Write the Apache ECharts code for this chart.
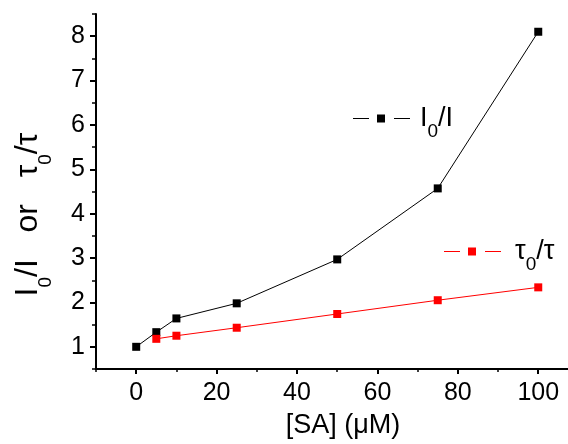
<!DOCTYPE html>
<html>
<head>
<meta charset="utf-8">
<script src="https://cdn.jsdelivr.net/npm/echarts@6/dist/echarts.min.js"></script>
<style>
  html, body { margin: 0; padding: 0; background: #fff; }
  #chart { width: 568px; height: 444px; }
</style>
</head>
<body>
<div id="chart"></div>
<script>
// concentration of SA (uM)
var concBlack = [0, 5, 10, 25, 50, 75, 100];
var ratioI = [1.0, 1.33, 1.64, 1.98, 2.97, 4.57, 8.1];
var concRed = [5, 10, 25, 50, 75, 100];
var ratioTau = [1.18, 1.25, 1.43, 1.74, 2.05, 2.34];

var xMajor = [0, 20, 40, 60, 80, 100];
var xMinor = [-10, 10, 30, 50, 70, 90];
var yMajor = [1, 2, 3, 4, 5, 6, 7, 8];
var yMinor = [0.5, 1.5, 2.5, 3.5, 4.5, 5.5, 6.5, 7.5, 8.5];

function pairs(xs, ys) {
  return xs.map(function (x, i) { return [x, ys[i]]; });
}

var font = '"Liberation Sans", Arial, sans-serif';
var legendIcon = 'path://M0,3.5h16v1h-16z M24,0h8v8h-8z M41,3.5h16v1h-16z';

var legendRich = {
  a: { fontSize: 27, fontFamily: font, color: '#000', lineHeight: 30 },
  s: { fontSize: 19, fontFamily: font, color: '#000', padding: [27, 0, 0, 0] }
};

var chart = echarts.init(document.getElementById('chart'));
chart.setOption({
  animation: false,
  backgroundColor: '#fff',
  grid: { left: 96, right: 0, top: 14, bottom: 75, containLabel: false },
  legend: [
    {
      data: [{ name: 'I0/I', icon: legendIcon }],
      left: 353, top: 105, padding: 0,
      itemWidth: 57, itemHeight: 8,
      itemStyle: { borderWidth: 0 },
      formatter: function () { return '{a|I}{s|0}{a|/I}'; },
      textStyle: { padding: [0, 0, 0, 5], rich: legendRich }
    },
    {
      data: [{ name: 't0/t', icon: legendIcon }],
      left: 444, top: 238, padding: 0,
      itemWidth: 57, itemHeight: 8,
      itemStyle: { borderWidth: 0 },
      formatter: function () { return '{a|τ}{s|0}{a|/τ}'; },
      textStyle: { padding: [0, 0, 0, 9], rich: legendRich }
    }
  ],
  xAxis: [
    {
      type: 'value', min: -10, max: 107.4,
      name: '[SA] (μM)', nameLocation: 'middle', nameGap: 43,
      nameTextStyle: { fontSize: 27, fontFamily: font, color: '#000', padding: [0, 0, 0, 22] },
      axisLine: { show: true, onZero: false, lineStyle: { color: '#000', width: 2 } },
      axisTick: { show: true, customValues: xMajor, length: 5, lineStyle: { color: '#000', width: 2 } },
      axisLabel: { customValues: xMajor, margin: 12, fontSize: 25, fontFamily: font, color: '#000' },
      splitLine: { show: false }
    },
    {
      type: 'value', min: -10, max: 107.4, position: 'bottom',
      axisLine: { show: false, onZero: false },
      axisTick: { show: true, customValues: xMinor, length: 3, lineStyle: { color: '#000', width: 1.5 } },
      axisLabel: { show: false },
      splitLine: { show: false }
    }
  ],
  yAxis: [
    {
      type: 'value', min: 0.5, max: 8.5,
      name: '{a|I}{s|0}{a|/I   or   τ}{s|0}{a|/τ}',
      nameLocation: 'middle', nameGap: 41,
      nameTextStyle: {
        padding: [0, 46, 0, 0],
        rich: {
          a: { fontSize: 32, fontFamily: font, color: '#000', lineHeight: 34 },
          s: { fontSize: 19, fontFamily: font, color: '#000', padding: [34, 0, 0, 0] }
        }
      },
      axisLine: { show: true, onZero: false, lineStyle: { color: '#000', width: 2 } },
      axisTick: { show: true, customValues: yMajor, length: 6, lineStyle: { color: '#000', width: 2 } },
      axisLabel: { customValues: yMajor, margin: 11, fontSize: 25, fontFamily: font, color: '#000' },
      splitLine: { show: false }
    },
    {
      type: 'value', min: 0.5, max: 8.5, position: 'left',
      axisLine: { show: false, onZero: false },
      axisTick: { show: true, customValues: yMinor, length: 4, lineStyle: { color: '#000', width: 1.5 } },
      axisLabel: { show: false },
      splitLine: { show: false }
    }
  ],
  series: [
    {
      name: 'I0/I', type: 'line',
      data: pairs(concBlack, ratioI),
      symbol: 'rect', symbolSize: 8,
      itemStyle: { color: '#000', borderWidth: 0 },
      lineStyle: { color: '#000', width: 1 }
    },
    {
      name: 't0/t', type: 'line',
      data: pairs(concRed, ratioTau),
      symbol: 'rect', symbolSize: 8,
      itemStyle: { color: '#ff0000', borderWidth: 0 },
      lineStyle: { color: '#ff0000', width: 1 }
    }
  ]
});
</script>
</body>
</html>
